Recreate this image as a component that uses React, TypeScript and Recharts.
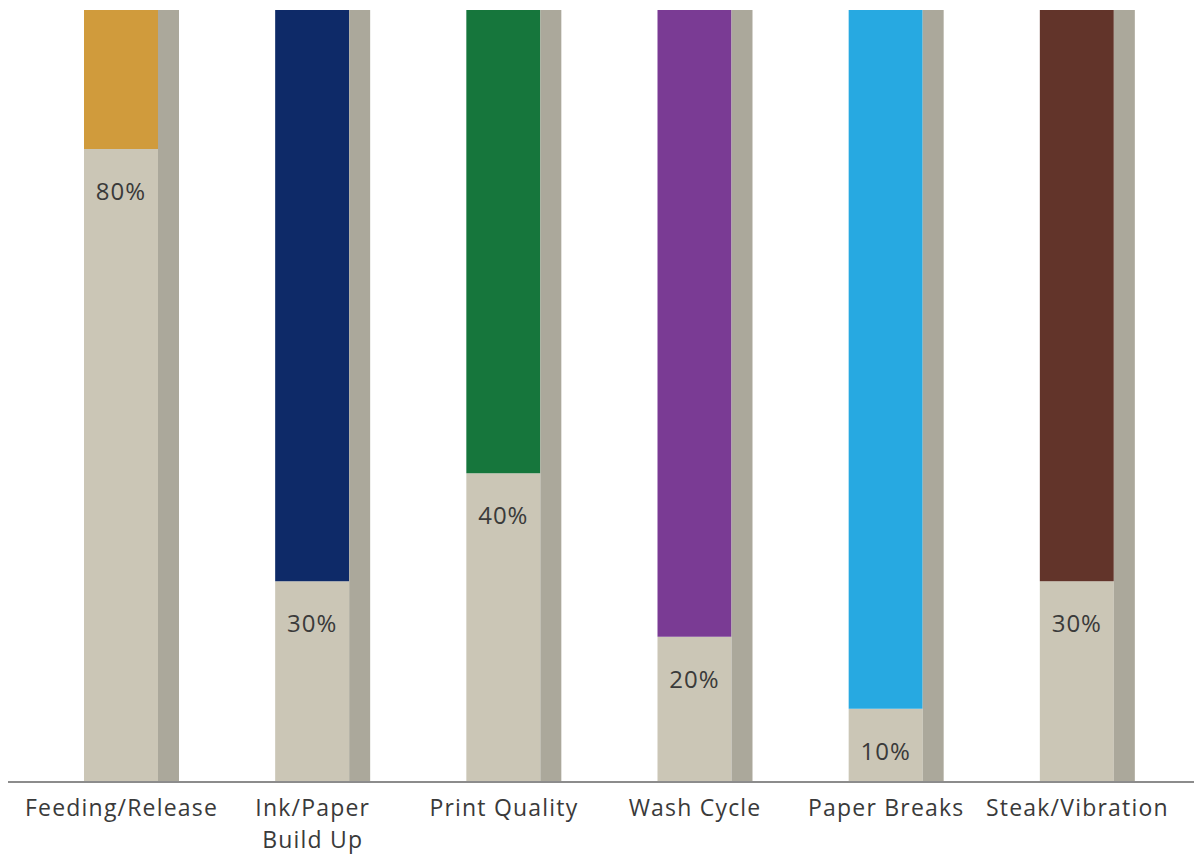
import React from "react";
import { BarChart, Bar, XAxis, YAxis, Cell, LabelList } from "recharts";

const categories = [
  "Feeding/Release",
  "Ink/Paper\nBuild Up",
  "Print Quality",
  "Wash Cycle",
  "Paper Breaks",
  "Steak/Vibration",
];
// height of the beige (lower) part of each bar (% of full column)
const baseValues = [82, 26, 40, 18.8, 9.5, 26];
const valueLabels = ["80%", "30%", "40%", "20%", "10%", "30%"];
const topColors = ["#D09B3C", "#0E2A68", "#16763C", "#7A3B94", "#27A9E1", "#62342A"];
const FULL = 100;

const data = categories.map((c, i) => ({
  name: c,
  base: baseValues[i],
  top: FULL - baseValues[i],
  shadow: FULL,
  label: valueLabels[i],
}));

const FONT = "'Open Sans', sans-serif";

const Tick = (props: any) => {
  const { x, y, payload } = props;
  const lines = String(payload.value).split("\n");
  return (
    <text
      x={x - 10}
      y={y}
      textAnchor="middle"
      fill="#3a3a3a"
      fontSize={23}
      fontFamily={FONT}
      letterSpacing={1.2}
    >
      {lines.map((l, i) => (
        <tspan key={i} x={x - 10} dy={i === 0 ? 26 : 32}>
          {l}
        </tspan>
      ))}
    </text>
  );
};

const ValueLabel = (props: any) => {
  const { x, y, width, value } = props;
  return (
    <text
      x={x + width / 2}
      y={y + 51}
      textAnchor="middle"
      fill="#3a3a3a"
      fontSize={24}
      fontFamily={FONT}
      letterSpacing={1}
    >
      {value}
    </text>
  );
};

export default function App() {
  return (
    <BarChart
      width={1186}
      height={848}
      data={data}
      margin={{ top: 2, right: 0, bottom: 0, left: 0 }}
      barGap={0}
    >
      <XAxis
        dataKey="name"
        tick={<Tick />}
        tickLine={false}
        axisLine={{ stroke: "#8c8c8c", strokeWidth: 2 }}
        height={74}
        interval={0}
        padding={{ left: 28, right: 11 }}
      />
      <YAxis hide domain={[0, FULL]} />
      <Bar dataKey="base" stackId="a" fill="#CBC6B6" barSize={74} isAnimationActive={false}>
        <LabelList dataKey="label" content={<ValueLabel />} />
      </Bar>
      <Bar dataKey="top" stackId="a" barSize={74} isAnimationActive={false}>
        {data.map((d, i) => (
          <Cell key={i} fill={topColors[i]} />
        ))}
      </Bar>
      <Bar dataKey="shadow" stackId="b" fill="#ABA89B" barSize={21} isAnimationActive={false} />
    </BarChart>
  );
}
